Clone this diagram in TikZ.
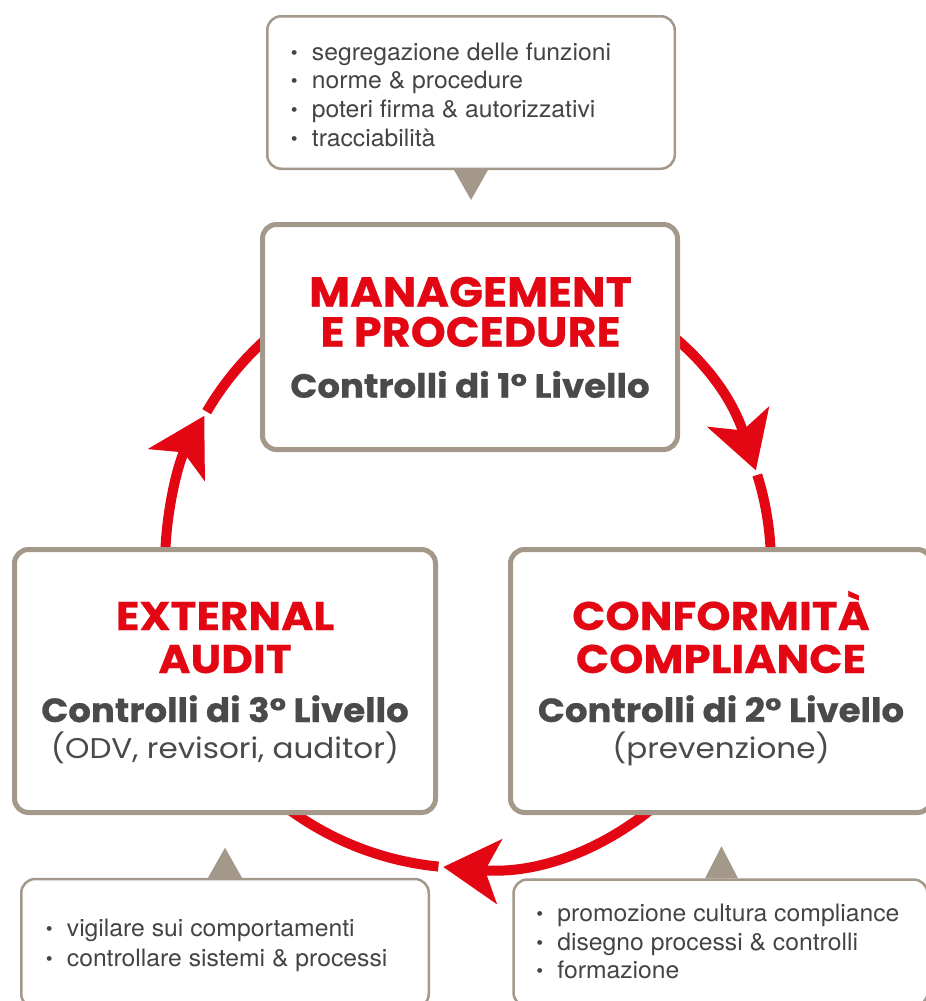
\documentclass[tikz,border=0pt]{standalone}
\usepackage{fontspec}
\usetikzlibrary{arrows.meta,calc}
\newfontfamily\ftop{Poppins}[BoldFeatures={FakeStretch=1.06,FakeBold=0.5}]
\newfontfamily\fside{Poppins}[BoldFeatures={FakeStretch=1.09,FakeBold=0.5}]
\newfontfamily\flevel{Poppins}[BoldFeatures={FakeStretch=1.06,FakeBold=0.7}]
\newfontfamily\fnote{Poppins}[FakeStretch=1.09]
\newfontfamily\helf{TeX Gyre Heros}[FakeStretch=1.03]
\definecolor{cred}{RGB}{227,6,19}
\definecolor{cbeige}{RGB}{163,152,137}
\definecolor{ctext}{RGB}{74,74,74}
\definecolor{citem}{RGB}{68,68,68}
\newcommand\blt{\makebox[0pt][c]{\raisebox{1pt}{\fontsize{19}{19}\selectfont •}}\hspace{17.7pt}}
\begin{document}
\begin{tikzpicture}[x=1pt,y=-1pt,
  mainbox/.style={draw=cbeige, line width=5pt, rounded corners=14pt, fill=white, inner sep=0pt},
  bulletbox/.style={draw=cbeige, line width=2.5pt, rounded corners=14pt, fill=white, inner sep=0pt},
  pointer/.style={fill=cbeige, draw=none},
  ring/.style={draw=cred, line width=10pt},
  ringarrow/.style={ring, -{Stealth[length=56pt, width=64pt, inset=14pt]}},
  titlebig/.style={font=\ftop\bfseries\fontsize{42}{42}\selectfont, text=cred, anchor=base, inner sep=0pt},
  titlemid/.style={font=\fside\bfseries\fontsize{40}{40}\selectfont, text=cred, anchor=base, inner sep=0pt},
  level/.style={font=\flevel\bfseries\fontsize{33.5}{33.5}\selectfont, text=ctext, anchor=base, inner sep=0pt},
  note/.style={font=\fnote\fontsize{28.5}{28.5}\selectfont, text=ctext, anchor=base, inner sep=0pt},
  item/.style={font=\helf\fontsize{24}{24}\selectfont, text=citem, anchor=base west, inner sep=0pt}
]
\useasboundingbox (0,0) rectangle (926,1001);
\clip (0,0) rectangle (926,1001);
\coordinate (C) at (468,565);
% red cycle
\draw[ringarrow] (C) ++(180:303) arc[start angle=180, end angle=209.5, radius=303];
\draw[ring] (C) ++(210.4:303) arc[start angle=210.4, end angle=270, radius=303];
\draw[ringarrow] (C) ++(270:303) arc[start angle=270, end angle=341.8, radius=303];
\draw[ring] (C) ++(342.7:303) arc[start angle=342.7, end angle=370, radius=303];
\draw[ringarrow] (C) ++(20:303) arc[start angle=20, end angle=94.7, radius=303];
\draw[ring] (C) ++(95.6:303) arc[start angle=95.6, end angle=160, radius=303];
% boxes
\node[bulletbox, minimum width=407.5pt, minimum height=152.5pt] (tbox) at (471,92.5) {};
\node[mainbox, minimum width=415pt, minimum height=225pt] (m1) at (470,337) {};
\node[mainbox, minimum width=421pt, minimum height=263pt] (m3) at (225,681) {};
\node[mainbox, minimum width=421pt, minimum height=263pt] (m2) at (721,681) {};
\node[bulletbox, minimum width=407.5pt, minimum height=129pt] (bbl) at (225,943.5) {};
\node[bulletbox, minimum width=414pt, minimum height=127pt] (bbr) at (720.5,943) {};
% pointers
\fill[pointer] ($(tbox.south)+(-17,0)$) -- ($(tbox.south)+(17,0)$) -- ($(tbox.south)+(0,30)$) -- cycle;
\fill[pointer] ($(bbl.north)+(-17,0)$) -- ($(bbl.north)+(17,0)$) -- ($(bbl.north)+(0,-30)$) -- cycle;
\fill[pointer] ($(bbr.north)+(-15.5,0)$) -- ($(bbr.north)+(17.5,0)$) -- ($(bbr.north)+(1,-32)$) -- cycle;
% top box texts
\node[titlebig] (m1a) at (470.5,306.7) {MANAGEMENT};
\node[titlebig] (m1b) at (470.5,346.7) {E PROCEDURE};
\node[level] (m1c) at (470,397.7) {Controlli di 1° Livello};
% left box texts
\node[titlemid] (m3a) at (225,630) {EXTERNAL};
\node[titlemid] (m3b) at (225,673) {AUDIT};
\node[level] (m3c) at (225,722) {Controlli di 3° Livello};
\node[note] (m3d) at (225,758) {(ODV, revisori, auditor)};
% right box texts
\node[titlemid] (m2a) at (721,630) {CONFORMITÀ};
\node[titlemid] (m2b) at (721,673) {COMPLIANCE};
\node[level] (m2c) at (721,722) {Controlli di 2° Livello};
\node[note] (m2d) at (721,758) {(prevenzione)};
% bullet lists
\node[item] (t1) at (294,60) {\blt segregazione delle funzioni};
\node[item] (t2) at (294,88.7) {\blt norme \& procedure};
\node[item] (t3) at (294,117.3) {\blt poteri firma \& autorizzativi};
\node[item] (t4) at (294,146) {\blt tracciabilità};
\node[item] (l1) at (49,936.7) {\blt vigilare sui comportamenti};
\node[item] (l2) at (49,966) {\blt controllare sistemi \& processi};
\node[item] (r1) at (539.5,921.7) {\blt promozione cultura compliance};
\node[item] (r2) at (539.5,950) {\blt disegno processi \& controlli};
\node[item] (r3) at (539.5,978.3) {\blt formazione};
\end{tikzpicture}
\end{document}
